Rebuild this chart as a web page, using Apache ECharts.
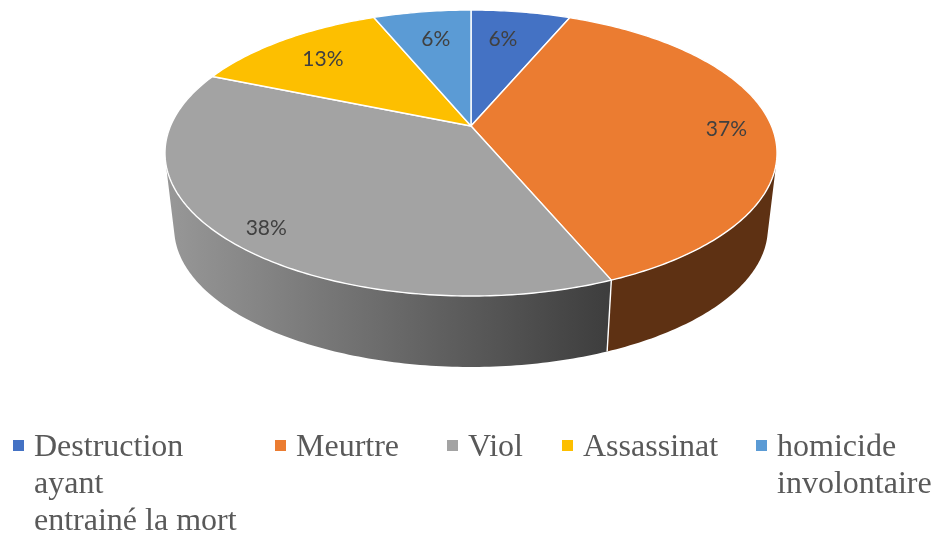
<!DOCTYPE html>
<html>
<head>
<meta charset="utf-8">
<style>
html, body { margin: 0; padding: 0; background: #fff; }
#chart { width: 936px; height: 533px; }
</style>
<script src="https://cdn.jsdelivr.net/npm/echarts@6/dist/echarts.min.js"></script>
</head>
<body>
<div id="chart"></div>
<script>
// data (percent)
const categories = ['Destruction ayant entrainé la mort', 'Meurtre', 'Viol', 'Assassinat', 'homicide involontaire'];
const legendLines = [['Destruction', 'ayant', 'entrainé la mort'], ['Meurtre'], ['Viol'], ['Assassinat'], ['homicide', 'involontaire']];
const values = [6.3, 37.4, 37.6, 12.5, 6.2];
const colors = ['#4472c4', '#eb7c31', '#a3a3a3', '#fdbf00', '#5b9bd5'];
const wallColors = ['#2a4478', '#5e3113', '#a5a5a5', '#997300', '#2e75b6'];

// layout, not data
const legendLeft = [13, 275, 447, 562, 756];
const labelRadius = [0.75, 0.85, 0.85, 0.76, 0.75];
const labelShift = [[-7, 2], [0, 3], [-1, 9], [-2, 1], [3, 2]];
// square with empty room under it, sits a little above the text centre
const legendIcon = 'path://M0 0L11 0L11 11L0 11ZM0 15L0 15Z';

const total = values.reduce(function (a, b) { return a + b; }, 0);
const starts = [];
values.reduce(function (sum, v, i) { starts[i] = sum; return sum + v; }, 0);

// perspective disc: apex of the slices sits above the ellipse centre
const cx = 471, cyTop = 126, cyLow = 202;
const ax = 300.5, by = 137.9, k = 0.189;
const lowX = 0.97, lowY = 0.97;

function project(t, r, lower) {
	const u = Math.sin(t) * r;
	const v = -Math.cos(t) * r;
	const d = 1 - k * v;
	if (lower) {
		return [cx + ax * lowX * u / d, cyLow + by * lowY * v / d];
	}
	return [cx + ax * u / d, cyTop + by * v / d];
}

function arc(t0, t1, lower) {
	const n = Math.max(2, Math.ceil((t1 - t0) / 0.015));
	const pts = [];
	for (let i = 0; i <= n; i++) {
		pts.push(project(t0 + (t1 - t0) * i / n, 1, lower));
	}
	return pts;
}

function wallFill(i) {
	// side of the Viol slice is shaded left to right, the others are flat
	if (i === 2) {
		return new echarts.graphic.LinearGradient(165, 0, 606, 0, [
			{ offset: 0, color: '#989898' },
			{ offset: 1, color: '#3e3e3e' }
		], true);
	}
	return wallColors[i];
}

// keep only the part of the rim that faces the viewer, else the polygon folds
function frontWall(topArc, lowArc) {
	const top = [], low = [];
	for (let j = 0; j < topArc.length - 1; j++) {
		const tx = topArc[j + 1][0] - topArc[j][0];
		const ty = topArc[j + 1][1] - topArc[j][1];
		const rx = lowArc[j][0] - topArc[j][0];
		const ry = lowArc[j][1] - topArc[j][1];
		if (tx * ry - ty * rx < 0) {
			top.push(topArc[j], topArc[j + 1]);
			low.push(lowArc[j], lowArc[j + 1]);
		}
	}
	return top.concat(low.reverse());
}

function makeRenderItem(i) {
	return function (params, api) {
		const t0 = starts[i] / total * Math.PI * 2;
		const t1 = t0 + api.value(0) / total * Math.PI * 2;
		const tm = (t0 + t1) / 2;
		const topArc = arc(t0, t1, false);
		const lowArc = arc(t0, t1, true);
		const wall = frontWall(topArc, lowArc);
		const children = [];
		if (wall.length) {
			children.push({
				type: 'polygon',
				z2: 1,
				shape: { points: wall },
				style: { fill: wallFill(i) }
			});
		}
		children.push({
			type: 'polygon',
			z2: 3,
			shape: { points: [[cx, cyTop]].concat(topArc) },
			style: { fill: colors[i], stroke: '#fff', lineWidth: 1.4, lineJoin: 'round' }
		});
		// white edge between the two visible walls
		if (-Math.cos(t0) > 0) {
			children.push({
				type: 'line',
				z2: 2,
				shape: {
					x1: topArc[0][0], y1: topArc[0][1],
					x2: lowArc[0][0], y2: lowArc[0][1]
				},
				style: { stroke: '#fff', lineWidth: 1.4 }
			});
		}
		const p = project(tm, labelRadius[i], false);
		children.push({
			type: 'text',
			z2: 4,
			style: {
				text: Math.round(api.value(0)) + '%',
				x: p[0] + labelShift[i][0],
				y: p[1] + labelShift[i][1],
				align: 'center',
				verticalAlign: 'middle',
				fontFamily: 'Lato',
				fontSize: 21,
				fill: '#404040'
			}
		});
		return { type: 'group', children: children };
	};
}

const dom = document.getElementById('chart');
const myChart = echarts.init(dom, null, { renderer: 'canvas' });

const option = {
	backgroundColor: '#fff',
	animation: false,
	legend: categories.map(function (name, i) {
		const extra = legendLines[i].length - 1;
		return {
			data: [name],
			left: legendLeft[i],
			top: 429 - 37 * extra,
			padding: 0,
			icon: legendIcon,
			itemWidth: 11,
			itemHeight: 15,
			selectedMode: false,
			// blank lines keep the marker level with the first line of text
			formatter: function () {
				const lines = legendLines[i].slice();
				for (let j = 0; j < extra; j++) lines.unshift(' ');
				return lines.join('\n');
			},
			textStyle: {
				fontFamily: 'Liberation Serif',
				fontSize: 32,
				lineHeight: 37,
				color: '#595959',
				padding: [0, 0, 0, 5]
			}
		};
	}),
	series: categories.map(function (name, i) {
		return {
			name: name,
			type: 'custom',
			coordinateSystem: 'none',
			silent: true,
			itemStyle: { color: colors[i] },
			renderItem: makeRenderItem(i),
			data: [[values[i]]]
		};
	})
};
myChart.setOption(option);
</script>
</body>
</html>
